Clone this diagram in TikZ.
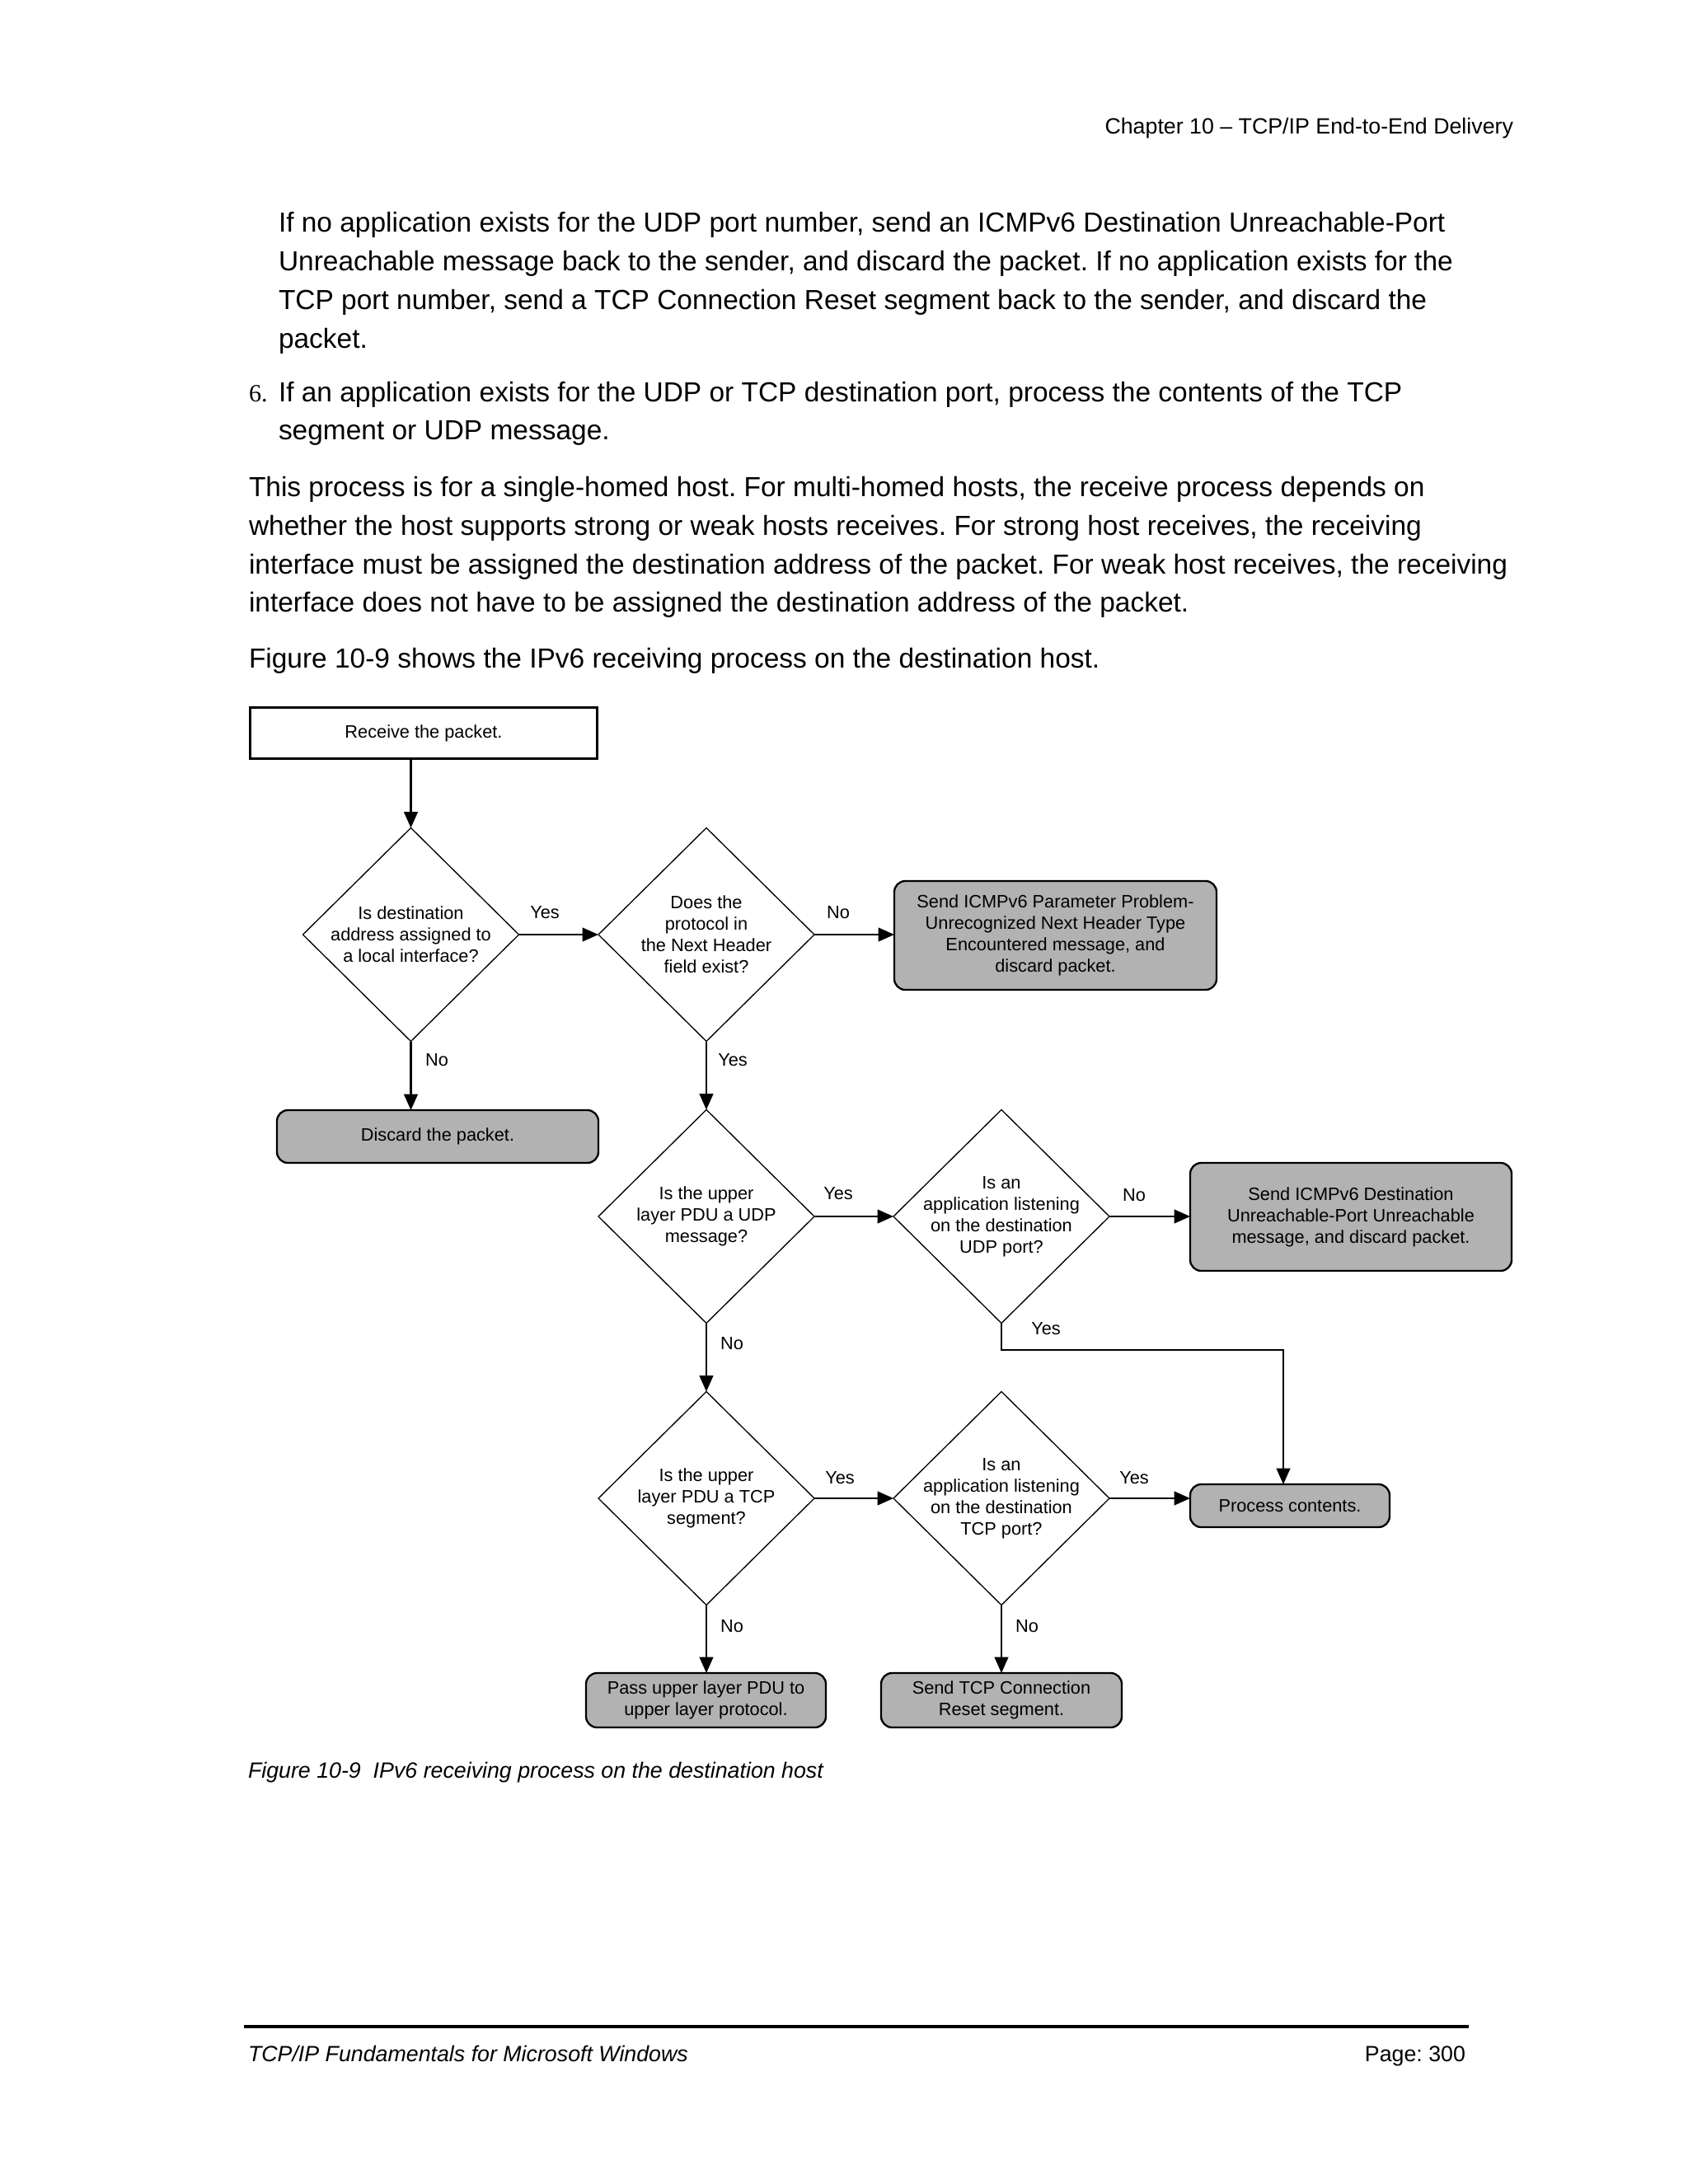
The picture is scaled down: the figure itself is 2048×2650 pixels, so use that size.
\documentclass[tikz,border=0pt]{standalone}
\usepackage{fontspec}
\setmainfont{Liberation Sans}
\newfontfamily\seriffont{Liberation Serif}
\usetikzlibrary{shapes.geometric,arrows.meta}
\definecolor{boxgray}{RGB}{178,178,178}
\def\px{0.298828pt}
\frenchspacing
\begin{document}
\begin{tikzpicture}[x=0.298828pt,y=-0.298828pt,
  every node/.style={inner sep=0pt, outer sep=0pt},
  body/.style={anchor=base west, font=\fontsize{10}{14}\selectfont},
  small/.style={font=\fontsize{8}{10}\selectfont},
  dtext/.style={font=\fontsize{6.5}{7.8}\selectfont, align=center},
  dia/.style={shape=diamond, draw, line width=0.4pt, minimum width=262*\px, minimum height=259*\px},
  gbox/.style={dtext, draw, line width=0.7pt, fill=boxgray, rounded corners=4pt},
  wbox/.style={dtext, draw, line width=0.7pt},
  lbl/.style={font=\fontsize{6.5}{7.8}\selectfont},
  arr/.style={line width=0.6pt, -{Triangle[length=5.8pt,width=5pt]}},
]
\useasboundingbox (0,0) rectangle (2048,2650);
\fill[white] (0,0) rectangle (2048,2650);

% header
\node[small, anchor=base east] (hdr) at (1836,162) {Chapter 10 – TCP/IP End-to-End Delivery};

% body text
\node[body] (p1a) at (338,281) {If no application exists for the UDP port number, send an ICMPv6 Destination Unreachable-Port};
\node[body] (p1b) at (338,328) {Unreachable message back to the sender, and discard the packet. If no application exists for the};
\node[body] (p1c) at (338,375) {TCP port number, send a TCP Connection Reset segment back to the sender, and discard the};
\node[body] (p1d) at (338,422) {packet.};
\node[anchor=base west, font=\seriffont\fontsize{9}{12}\selectfont] (n6) at (302,487) {6.};
\node[body] (p2a) at (338,487) {If an application exists for the UDP or TCP destination port, process the contents of the TCP};
\node[body] (p2b) at (338,533) {segment or UDP message.};
\node[body] (p3a) at (302,602) {This process is for a single-homed host. For multi-homed hosts, the receive process depends on};
\node[body] (p3b) at (302,649) {whether the host supports strong or weak hosts receives. For strong host receives, the receiving};
\node[body] (p3c) at (302,696) {interface must be assigned the destination address of the packet. For weak host receives, the receiving};
\node[body] (p3d) at (302,742) {interface does not have to be assigned the destination address of the packet.};
\node[body] (p4) at (302,810) {Figure 10-9 shows the IPv6 receiving process on the destination host.};

% diagram nodes
\node[wbox, minimum width=421*\px, minimum height=62*\px] (receive) at (514,889.5) {Receive the packet.};

\node[dia] (d1) at (498.5,1134) {};
\node[dtext] (d1t) at (d1) {Is destination\\address assigned to\\a local interface?};
\node[dia] (d2) at (857,1134) {};
\node[dtext] (d2t) at (d2) {Does the\\protocol in\\the Next Header\\field exist?};
\node[gbox, minimum width=391*\px, minimum height=132*\px] (param) at (1280.5,1135) {Send ICMPv6 Parameter Problem-\\Unrecognized Next Header Type\\Encountered message, and\\discard packet.};
\node[gbox, minimum width=390*\px, minimum height=64*\px] (discard) at (531,1379) {Discard the packet.};

\node[dia] (d3) at (857,1476) {};
\node[dtext] (d3t) at (d3) {Is the upper\\layer PDU a UDP\\message?};
\node[dia] (d4) at (1215,1476) {};
\node[dtext] (d4t) at (d4) {Is an\\application listening\\on the destination\\UDP port?};
\node[gbox, minimum width=390*\px, minimum height=131*\px] (dest) at (1639,1476.5) {Send ICMPv6 Destination\\Unreachable-Port Unreachable\\message, and discard packet.};

\node[dia] (d5) at (857,1818) {};
\node[dtext] (d5t) at (d5) {Is the upper\\layer PDU a TCP\\segment?};
\node[dia] (d6) at (1215,1818) {};
\node[dtext] (d6t) at (d6) {Is an\\application listening\\on the destination\\TCP port?};
\node[gbox, minimum width=242*\px, minimum height=52*\px] (process) at (1565,1827) {Process contents.};

\node[gbox, minimum width=291*\px, minimum height=66*\px] (pass) at (856.5,2063) {Pass upper layer PDU to\\upper layer protocol.};
\node[gbox, minimum width=292*\px, minimum height=66*\px] (reset) at (1215,2063) {Send TCP Connection\\Reset segment.};

% connectors
\draw[arr] (receive.south -| d1.north) -- (d1.north);
\draw[arr] (d1.east) -- (d2.west);
\draw[arr] (d2.east) -- (d2.east -| param.west);
\draw[arr] (d1.south) -- (d1.south |- discard.north);
\draw[arr] (d2.south) -- (d3.north);
\draw[arr] (d3.east) -- (d4.west);
\draw[arr] (d4.east) -- (d4.east -| dest.west);
\coordinate (bend) at (1557,1638);
\draw[arr] (d4.south) |- (bend) -- (bend |- process.north);
\draw[arr] (d3.south) -- (d5.north);
\draw[arr] (d5.east) -- (d6.west);
\draw[arr] (d6.east) -- (d6.east -| process.west);
\draw[arr] (d5.south) -- (d5.south |- pass.north);
\draw[arr] (d6.south) -- (d6.south |- reset.north);

% connector labels
\node[lbl] (l1) at (661,1107) {Yes};
\node[lbl] (l2) at (1017,1107) {No};
\node[lbl] (l3) at (530,1286) {No};
\node[lbl] (l4) at (889,1286) {Yes};
\node[lbl] (l5) at (1017,1448) {Yes};
\node[lbl] (l6) at (1376,1450) {No};
\node[lbl] (l7) at (1269,1612) {Yes};
\node[lbl] (l8) at (888,1630) {No};
\node[lbl] (l9) at (1019,1793) {Yes};
\node[lbl] (l10) at (1376,1793) {Yes};
\node[lbl] (l11) at (888,1973) {No};
\node[lbl] (l12) at (1246,1973) {No};

% caption and footer
\node[anchor=base west, font=\fontsize{8}{10}\selectfont\itshape] (cap) at (301,2157) {Figure 10-9\ \ IPv6 receiving process on the destination host};
\draw[line width=1pt] (296,2459) -- (1782,2459);
\node[anchor=base west, font=\fontsize{8}{10}\selectfont\itshape] (ftl) at (301,2501) {TCP/IP Fundamentals for Microsoft Windows};
\node[anchor=base east, small] (ftr) at (1778,2501) {Page: 300};
\end{tikzpicture}
\end{document}
